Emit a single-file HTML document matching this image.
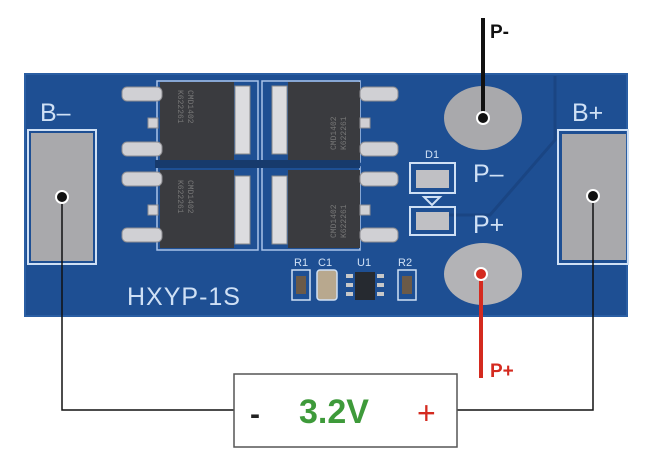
<!DOCTYPE html>
<html><head><meta charset="utf-8"><style>
html,body{margin:0;padding:0;background:#fff;width:658px;height:470px;overflow:hidden}
svg{display:block;font-family:"Liberation Sans",sans-serif}
</style></head><body>
<svg width="658" height="470" viewBox="0 0 658 470">
<!-- board -->
<rect x="25" y="74" width="602" height="242" fill="#1e4f93"/>
<rect x="25" y="74" width="602" height="242" fill="none" stroke="#2a5ea3" stroke-width="2"/>
<!-- traces -->
<path d="M555 76 L555 140 L490 215 L420 215" fill="none" stroke="#1a4583" stroke-width="3"/>
<!-- B- -->
<text x="40" y="121" font-size="25" fill="#cfe0f5">B–</text>
<rect x="28" y="130" width="68" height="134" fill="none" stroke="#cfe0f5" stroke-width="2"/>
<rect x="31" y="133" width="62" height="128" fill="#a9a9ac"/>
<!-- B+ -->
<text x="572" y="121" font-size="25" fill="#cfe0f5">B+</text>
<rect x="558" y="130" width="70" height="134" fill="none" stroke="#cfe0f5" stroke-width="2"/>
<rect x="562" y="134" width="64" height="126" fill="#a9a9ac"/>
<!-- mosfets outlines -->
<g fill="none" stroke="#a8c4ea" stroke-width="1.5">
<rect x="157" y="81" width="101" height="81"/><rect x="262" y="81" width="98" height="81"/>
<rect x="157" y="167" width="101" height="83"/><rect x="262" y="167" width="98" height="83"/>
</g>
<rect x="155" y="160" width="205" height="8" fill="#173a6c"/>
<g fill="#3a3b3f">
<rect x="160" y="82" width="74" height="78"/><rect x="288" y="82" width="72" height="78"/>
<rect x="160" y="170" width="74" height="78"/><rect x="288" y="170" width="72" height="78"/>
</g>
<g fill="#dcdcdf" stroke="#888" stroke-width="1">
<rect x="235" y="86" width="15" height="68"/><rect x="272" y="86" width="15" height="68"/>
<rect x="235" y="176" width="15" height="68"/><rect x="272" y="176" width="15" height="68"/>
</g>
<g fill="#d0d0d4" stroke="#8d8d92" stroke-width="1">
<rect x="122" y="87" width="40" height="14" rx="5"/><rect x="122" y="142" width="40" height="14" rx="5"/>
<rect x="122" y="172" width="40" height="14" rx="5"/><rect x="122" y="228" width="40" height="14" rx="5"/>
<rect x="360" y="87" width="38" height="14" rx="5"/><rect x="360" y="142" width="38" height="14" rx="5"/>
<rect x="360" y="172" width="38" height="14" rx="5"/><rect x="360" y="228" width="38" height="14" rx="5"/>
<rect x="148" y="118" width="10" height="10"/><rect x="148" y="205" width="10" height="10"/>
<rect x="360" y="118" width="10" height="10"/><rect x="360" y="205" width="10" height="10"/>
</g>
<g fill="#777" font-size="8" font-family="Liberation Mono,monospace">
<text transform="translate(188,90) rotate(90)">CMD1402</text>
<text transform="translate(178,90) rotate(90)">K622261</text>
<text transform="translate(188,180) rotate(90)">CMD1402</text>
<text transform="translate(178,180) rotate(90)">K622261</text>
<text transform="translate(336,150) rotate(-90)">CMD1402</text>
<text transform="translate(346,150) rotate(-90)">K622261</text>
<text transform="translate(336,238) rotate(-90)">CMD1402</text>
<text transform="translate(346,238) rotate(-90)">K622261</text>
</g>
<!-- pads -->
<ellipse cx="483" cy="118" rx="39" ry="32" fill="#a9a9ac"/>
<ellipse cx="483" cy="274" rx="39" ry="31" fill="#b3b3b6"/>
<!-- D1 -->
<text x="425" y="158" font-size="11" fill="#cfe0f5">D1</text>
<rect x="410" y="163" width="45" height="30" fill="none" stroke="#cfe0f5" stroke-width="2"/>
<rect x="416" y="170" width="33" height="18" fill="#c0c0c4"/>
<path d="M424 197 L440 197 L432 205 Z" fill="none" stroke="#cfe0f5" stroke-width="2"/>
<rect x="410" y="207" width="45" height="28" fill="none" stroke="#cfe0f5" stroke-width="2"/>
<rect x="416" y="212" width="33" height="18" fill="#c0c0c4"/>
<text x="473" y="182" font-size="25" fill="#cfe0f5">P–</text>
<text x="473" y="233" font-size="25" fill="#cfe0f5">P+</text>
<!-- small parts -->
<g font-size="11" fill="#cfe0f5">
<text x="294" y="266">R1</text><text x="318" y="266">C1</text><text x="357" y="266">U1</text><text x="398" y="266">R2</text>
</g>
<rect x="292" y="270" width="18" height="30" fill="none" stroke="#cfe0f5" stroke-width="1.5"/>
<rect x="296" y="276" width="10" height="18" fill="#6b5a48"/>
<rect x="317" y="270" width="20" height="30" rx="3" fill="#b8a88e" stroke="#cfe0f5" stroke-width="1.5"/>
<rect x="355" y="272" width="20" height="28" fill="#262a30"/>
<g fill="#c8c8c8"><rect x="346" y="274" width="7" height="4"/><rect x="346" y="283" width="7" height="4"/><rect x="346" y="292" width="7" height="4"/>
<rect x="377" y="274" width="7" height="4"/><rect x="377" y="283" width="7" height="4"/><rect x="377" y="292" width="7" height="4"/></g>
<rect x="398" y="270" width="18" height="30" fill="none" stroke="#cfe0f5" stroke-width="1.5"/>
<rect x="402" y="276" width="10" height="18" fill="#6b5a48"/>
<text x="127" y="305" font-size="25" fill="#cfe0f5" letter-spacing="1">HXYP-1S</text>
<!-- wires -->
<path d="M62 197 V410 H234" fill="none" stroke="#111" stroke-width="1.5"/>
<path d="M593 196 V410 H457" fill="none" stroke="#111" stroke-width="1.5"/>
<line x1="483" y1="18" x2="483" y2="118" stroke="#111" stroke-width="4"/>
<line x1="481" y1="274" x2="481" y2="378" stroke="#d42a1f" stroke-width="4"/>
<g stroke="#fff" stroke-width="2"><circle cx="62" cy="197" r="6" fill="#111"/><circle cx="593" cy="196" r="6" fill="#111"/><circle cx="483" cy="118" r="6" fill="#111"/><circle cx="481" cy="274" r="6" fill="#d42a1f"/></g>
<text x="490" y="38" font-size="19" font-weight="bold" fill="#111">P-</text>
<text x="490" y="377" font-size="19" font-weight="bold" fill="#d42a1f">P+</text>
<rect x="234" y="374" width="223" height="73" fill="#fff" stroke="#555" stroke-width="1.5"/>
<text x="250" y="424" font-size="30" font-weight="bold" fill="#222">-</text>
<text x="299" y="423" font-size="34" font-weight="bold" fill="#3e9a3a">3.2V</text>
<text x="417" y="424" font-size="32" fill="#d42a1f">+</text>
</svg>
</body></html>
